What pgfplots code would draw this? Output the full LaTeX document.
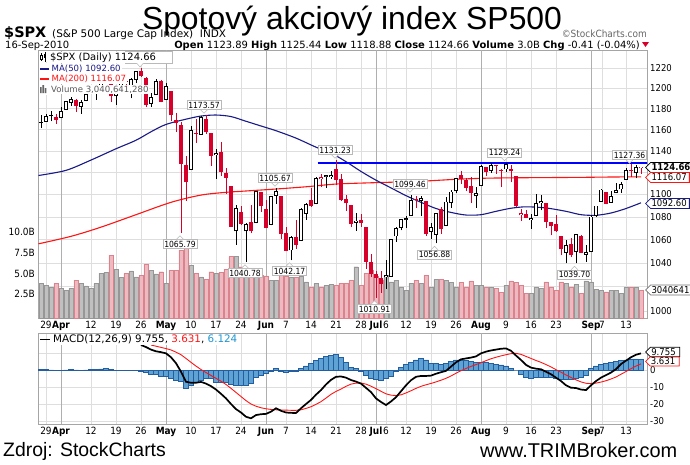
\documentclass[border=0pt]{standalone}
\usepackage{pgfplots}
\pgfplotsset{compat=1.18}
\usepackage{pgfplotstable}
\usepackage{fontspec}
\setmainfont{DejaVu Sans Condensed}
\newfontfamily\arial{Liberation Sans}
\newfontfamily\dvs{DejaVu Sans}
\usetikzlibrary{shapes.symbols}
\newcommand\fsz[1]{\fontsize{#1}{#1}\selectfont}
\definecolor{cred}{RGB}{214,0,42}
\definecolor{ma50c}{RGB}{25,25,135}
\definecolor{ma200c}{RGB}{255,20,20}
\definecolor{gridc}{RGB}{222,222,222}
\definecolor{monthc}{RGB}{175,175,175}
\definecolor{framec}{RGB}{165,165,165}
\definecolor{volg}{RGB}{192,192,192}
\definecolor{volgd}{RGB}{150,150,150}
\definecolor{volp}{RGB}{236,186,192}
\definecolor{volpd}{RGB}{220,130,140}
\definecolor{histf}{RGB}{95,162,212}
\definecolor{histd}{RGB}{35,95,160}
\definecolor{macdblue}{RGB}{30,150,210}
\definecolor{annoc}{RGB}{185,185,185}
\tikzset{anno/.style={draw=annoc, fill=white, font=\fsz{8.5}, inner sep=1.3bp, line width=0.6bp}}
% black hollow candles (close >= open, close >= previous close)
\pgfplotstableread{
i O H L C V
0 1167.7 1174.9 1167.7 1173.2 3.6
3 1171.2 1181.4 1170.7 1178.1 3.2
4 1178.7 1187.7 1178.7 1187.4 3.0
5 1186.0 1191.8 1182.8 1189.4 3.2
7 1181.8 1188.6 1175.1 1186.4 3.8
8 1187.5 1194.7 1187.2 1194.4 3.5
9 1194.9 1199.2 1194.7 1196.5 3.2
10 1195.9 1199.0 1188.8 1197.3 3.8
11 1198.7 1210.7 1198.7 1210.7 5.0
12 1210.8 1213.9 1208.5 1211.7 5.15
14 1192.1 1197.9 1183.7 1197.5 5.5
15 1199.0 1208.6 1199.0 1207.2 4.5
17 1202.5 1210.3 1190.2 1208.7 5.3
18 1207.9 1217.3 1205.1 1217.3 4.6
21 1184.6 1195.0 1181.8 1191.4 5.4
22 1193.3 1209.4 1193.3 1206.8 4.95
24 1188.6 1205.1 1188.6 1202.3 3.8
29 1122.3 1163.9 1122.3 1159.7 6.0
31 1155.4 1172.9 1155.4 1171.7 4.6
34 1136.5 1141.9 1114.0 1136.9 5.0
38 1067.3 1090.2 1055.9 1087.7 7.05
40 1067.4 1074.8 1040.8 1074.0 5.0
42 1074.3 1103.5 1074.3 1103.1 4.5
45 1073.0 1098.6 1072.5 1098.4 4.2
46 1098.8 1105.7 1091.8 1102.8 4.2
49 1050.8 1063.2 1042.2 1062.0 4.5
51 1058.8 1087.9 1058.8 1086.8 4.7
52 1082.7 1092.0 1077.5 1091.6 4.0
54 1091.2 1115.6 1091.2 1115.2 3.8
56 1116.0 1117.7 1105.9 1116.0 3.6
57 1116.2 1121.0 1113.9 1117.5 3.7
62 1075.1 1083.1 1067.9 1076.8 5.8
68 1028.1 1042.5 1018.4 1028.1 4.8
69 1028.5 1060.9 1028.5 1060.3 4.0
70 1062.9 1071.3 1058.2 1070.3 4.2
71 1070.5 1078.2 1068.1 1078.0 3.4
72 1077.2 1080.8 1070.5 1078.8 3.0
73 1080.7 1099.5 1080.7 1095.3 3.8
75 1094.5 1098.7 1080.5 1096.5 3.8
77 1066.9 1074.7 1061.1 1071.3 3.4
78 1064.5 1083.9 1056.9 1083.5 4.3
80 1072.1 1097.5 1072.1 1093.7 4.2
81 1092.2 1103.7 1087.9 1102.7 3.9
82 1102.9 1115.0 1101.3 1115.0 3.4
86 1098.4 1106.4 1088.0 1101.6 3.6
87 1107.5 1127.3 1107.5 1125.9 3.6
89 1121.1 1128.8 1119.5 1127.2 3.3
92 1122.8 1129.2 1120.9 1127.8 3.6
97 1077.5 1082.6 1069.5 1079.4 2.6
98 1081.2 1100.1 1081.2 1092.5 3.4
99 1092.1 1099.8 1085.8 1094.2 3.2
104 1049.0 1059.4 1039.8 1055.3 3.8
106 1049.3 1065.2 1039.7 1064.6 3.7
108 1046.9 1055.1 1040.9 1049.3 4.1
109 1049.7 1081.3 1049.7 1080.3 4.0
110 1080.7 1090.1 1080.4 1090.1 3.1
111 1093.6 1105.1 1093.6 1104.5 3.0
113 1092.4 1103.3 1092.4 1098.9 3.0
114 1101.2 1110.3 1101.2 1104.2 3.0
115 1104.6 1110.9 1101.6 1109.6 2.6
116 1113.4 1123.9 1113.4 1121.9 3.3
118 1119.4 1126.5 1114.6 1125.1 3.3
}\gzero
% red hollow candles
\pgfplotstableread{
i O H L C V
55 1114.0 1118.7 1107.1 1114.6 3.4
95 1081.5 1086.7 1076.7 1083.6 3.6
119 1123.9 1125.4 1118.9 1124.7 3.0
}\gone
% red filled candles
\pgfplotstableread{
i O H L C V
2 1171.8 1174.6 1165.8 1169.4 3.8
6 1188.2 1189.6 1177.3 1182.5 4.2
13 1210.2 1210.2 1186.8 1192.1 7.2
16 1207.2 1211.0 1198.9 1205.9 5.0
19 1217.1 1219.8 1211.1 1212.1 4.8
20 1209.9 1211.4 1181.6 1183.7 6.1
23 1206.8 1208.0 1186.3 1186.7 5.2
25 1197.5 1197.5 1168.1 1173.6 5.4
26 1169.2 1176.0 1158.2 1165.9 5.4
27 1164.4 1167.6 1065.8 1128.2 7.8
28 1127.0 1135.1 1094.2 1110.9 8.2
30 1156.4 1170.5 1147.7 1155.8 5.0
32 1170.0 1173.6 1156.1 1157.4 4.3
33 1157.2 1157.2 1126.1 1135.7 5.2
35 1138.8 1148.7 1117.2 1120.8 5.15
36 1119.6 1124.3 1100.7 1115.1 5.5
37 1107.3 1107.3 1071.6 1071.6 7.0
39 1084.8 1090.0 1072.7 1073.7 5.8
41 1075.5 1090.8 1065.6 1068.0 4.8
43 1102.6 1102.6 1084.8 1089.4 4.8
44 1087.3 1094.8 1069.9 1070.7 4.7
47 1098.4 1098.4 1060.5 1064.9 5.4
48 1065.8 1071.4 1049.9 1050.5 4.7
50 1062.8 1077.7 1052.3 1055.7 4.5
53 1095.0 1105.9 1089.0 1089.6 3.4
58 1122.8 1131.2 1108.2 1113.2 3.6
59 1113.9 1118.5 1094.2 1095.3 3.8
60 1095.6 1099.6 1085.3 1092.0 3.8
61 1090.9 1090.9 1071.6 1073.7 4.2
63 1077.5 1082.6 1071.5 1074.6 3.6
64 1071.1 1071.1 1035.2 1041.2 5.0
65 1040.6 1048.1 1028.3 1030.7 5.4
66 1031.1 1033.6 1010.9 1027.4 4.7
67 1027.7 1032.9 1015.0 1022.6 4.2
74 1095.6 1099.1 1087.7 1095.2 4.2
76 1093.9 1093.9 1063.3 1064.9 4.8
79 1086.7 1089.0 1065.3 1069.6 4.3
83 1117.4 1121.0 1109.8 1113.8 3.9
84 1112.8 1114.7 1103.1 1106.1 3.3
85 1108.1 1115.9 1092.8 1101.5 4.1
88 1125.3 1125.4 1116.8 1120.5 3.3
90 1125.8 1126.6 1118.9 1125.8 3.2
91 1122.1 1123.1 1107.0 1121.6 2.7
93 1122.9 1127.2 1111.0 1121.1 4.1
94 1116.9 1116.9 1088.5 1089.5 3.9
96 1082.2 1086.3 1079.0 1079.3 2.6
100 1092.4 1092.4 1070.7 1075.6 4.0
101 1075.6 1075.6 1063.9 1071.7 3.4
102 1073.4 1081.6 1067.1 1067.4 3.0
103 1063.2 1063.2 1046.7 1051.9 4.0
105 1056.3 1061.5 1045.4 1047.2 3.4
107 1063.0 1064.4 1048.8 1048.9 2.6
112 1102.6 1102.6 1091.2 1091.8 2.8
117 1121.2 1127.4 1115.6 1121.1 3.3
}\gtwo
% black filled candles
\pgfplotstableread{
i O H L C V
-1 1167.6 1173.9 1161.5 1166.6 3.8
1 1173.8 1177.8 1168.0 1173.3 3.3
}\gthree
\pgfplotstableread{
i v
-1 0.3
0 0.3
1 0.1
2 -0.3
3 -0.3
4 0.1
5 0.3
6 0.1
7 -0.2
8 0.1
9 0.2
10 0.3
11 0.6
12 0.8
13 0.4
14 -0.3
15 -0.3
16 -0.3
17 -0.3
18 -0.3
19 -0.6
20 -1.5
21 -2.5
22 -2.5
23 -3.5
24 -3.5
25 -5
26 -6
27 -6.5
28 -10.8
29 -8.8
30 -7
31 -5.9
32 -5
33 -5
34 -7
35 -7
36 -7
37 -8.5
38 -9
39 -9
40 -9
41 -7.5
42 -4
43 -3
44 -2
45 -1
46 0.8
47 -0.5
48 -1.5
49 -1
50 -1
51 0.8
52 2.5
53 4
54 5.5
55 7
56 8
57 8.5
58 9
59 7.5
60 4.5
61 1.5
62 0.8
63 -1
64 -3
65 -5
66 -5.5
67 -6
68 -5
69 -3.5
70 -1
71 1.5
72 3.5
73 4.5
74 6
75 7
76 6
77 4
78 4
79 3.5
80 4
81 5
82 5.9
83 6
84 5.5
85 5
86 4.5
87 4.5
88 4.5
89 4
90 3.5
91 3
92 2.5
93 1
94 0
95 -2.5
96 -4.5
97 -5
98 -4.5
99 -4
100 -4
101 -4.5
102 -5
103 -5.5
104 -5.5
105 -5.5
106 -5
107 -4
108 -3
109 1
110 2.5
111 3.5
112 4
113 4.5
114 5
115 5.5
116 6
117 6.5
118 6.5
119 6.1
}\hist
\pgfplotstableread{
i v
19 14.7
20 13.5
21 12
22 11
23 10.5
24 9.8
25 7.5
26 4
27 -1
28 -6.9
29 -7.5
30 -7.5
31 -7
32 -8
33 -9.5
34 -11.5
35 -14
36 -16.7
37 -20
38 -23
39 -25
40 -27.5
41 -28.4
42 -26.5
43 -26
44 -25.8
45 -24.5
46 -22.5
47 -24
48 -25
49 -25.2
50 -25.3
51 -22.5
52 -20
53 -17.6
54 -14.5
55 -11.8
56 -8.5
57 -5.8
58 -4
59 -3.8
60 -4.5
61 -5.9
62 -6.8
63 -8
64 -10.5
65 -13
66 -16.7
67 -18.8
68 -20.6
69 -18.5
70 -16
71 -12.5
72 -9
73 -6
74 -4
75 -3.5
76 -3.5
77 -3.3
78 -2.2
79 -1.3
80 -0.5
81 2
82 4.5
83 6.3
84 6.8
85 7.3
86 8
87 9.8
88 10.8
89 11.5
90 12
91 12.5
92 12.7
93 11.3
94 8.5
95 5.9
96 3
97 1.4
98 0.8
99 0.4
100 -1
101 -2.5
102 -4.5
103 -6.5
104 -9
105 -10.4
106 -10.6
107 -11.5
108 -11.8
109 -9
110 -6.5
111 -4.5
112 -3
113 -1.5
114 0.5
115 3.5
116 5.5
117 7.5
118 9
119 9.755
}\macd
\pgfplotstableread{
i v
21 14.7
22 14
23 13.3
24 12.6
25 11.8
26 10.5
27 9
28 6.8
29 4.5
30 2.3
31 0.3
32 -1.5
33 -3.2
34 -4.9
35 -6.6
36 -8.5
37 -10.8
38 -13.2
39 -15.6
40 -18
41 -20
42 -21.3
43 -22.2
44 -22.8
45 -23.2
46 -23.4
47 -23.5
48 -23.6
49 -23.7
50 -23.7
51 -23.4
52 -22.6
53 -21.6
54 -20.2
55 -18.6
56 -16.5
57 -14.3
58 -12.6
59 -11.2
60 -9.6
61 -8.3
62 -7.7
63 -7.7
64 -8.3
65 -9.5
66 -11
67 -12.5
68 -14
69 -14.8
70 -15
71 -14.6
72 -13.5
73 -12.2
74 -10.8
75 -9.6
76 -8.7
77 -7.9
78 -7
79 -6
80 -4.9
81 -3.5
82 -1.9
83 -0.4
84 0.9
85 2.1
86 3.2
87 4.3
88 5.5
89 6.6
90 7.5
91 8.3
92 9
93 9.6
94 9.8
95 9.2
96 8
97 6.8
98 5.6
99 4.5
100 3.2
101 1.8
102 0.2
103 -1.3
104 -2.9
105 -4.4
106 -5.8
107 -7
108 -7.8
109 -8
110 -7.7
111 -7.1
112 -6.3
113 -5.3
114 -4.1
115 -2.5
116 -0.9
117 0.8
118 2.3
119 3.631
}\sig
\pgfplotsset{
  panelx/.style={
    scale only axis, width=609bp, xmin=-1.6, xmax=120.2,
    xtick={0,9,14,19,29,34,39,48,53,58,63,68,72,77,82,92,97,102,111.2,116},
    xticklabels={29,12,19,26,10,17,24,7,14,21,28,6,12,19,26,9,16,23,7,13},
    extra x ticks={3,24,44,66,87,109},
    extra x tick labels={\textbf{Apr},\textbf{May},\textbf{Jun},\textbf{Jul},\textbf{Aug},\textbf{Sep}},
    extra x tick style={grid=major, major grid style={draw=monthc, line width=0.8bp}},
    grid=major, major grid style={draw=gridc, line width=0.6bp},
    axis line style={draw=framec, line width=0.7bp}, tick style={draw=none},
    xticklabel style={font=\fsz{10}, inner sep=0pt, yshift=-3bp, anchor=north},
    yticklabel pos=right,
    yticklabel style={font=\fsz{9.5}, inner sep=0pt, xshift=3bp, anchor=west},
  },
}
\newcommand\pdown[1]{\draw[annoc, fill=white, line width=0.5bp] ([xshift=-3.5bp]#1.south) -- ([yshift=-3.5bp]#1.south) -- ([xshift=3.5bp]#1.south);}
\newcommand\pup[1]{\draw[annoc, fill=white, line width=0.5bp] ([xshift=-3.5bp]#1.north) -- ([yshift=3.5bp]#1.north) -- ([xshift=3.5bp]#1.north);}
\begin{document}
\begin{tikzpicture}
\path[use as bounding box] (0bp,0bp) rectangle (690bp,-465bp);
% grid and frame of price panel
\begin{axis}[panelx, at={(38bp,-50bp)}, anchor=north west, height=268bp,
  ymode=log, ymin=994.3, ymax=1238.3,
  ytick={1000,1020,1040,1060,1080,1100,1120,1140,1160,1180,1200,1220},
  yticklabels={1000,,1040,1060,1080,1100,,1140,1160,1180,1200,1220}]
\addplot[draw=none] coordinates {(0,1100)};
\end{axis}
% volume
\begin{axis}[at={(38bp,-50bp)}, anchor=north west, scale only axis, width=609bp, height=268bp,
  xmin=-1.6, xmax=120.2, ymin=0, ymax=32.06,
  axis line style={draw=none}, tick style={draw=none}, xtick=\empty,
  ytick={2.835,5.335,7.835,10.335}, yticklabels={2.5B,5.0B,7.5B,10.0B},
  yticklabel style={font=\fsz{10}, inner sep=0pt, xshift=-3bp, anchor=east}]
\addplot[ybar, bar width=4.4bp, bar shift=0pt, fill=volg, draw=volgd, line width=0.4bp]
  table[x=i, y expr=\thisrow{V}+0.335] {\gzero};
\addplot[ybar, bar width=4.4bp, bar shift=0pt, fill=volg, draw=volgd, line width=0.4bp]
  table[x=i, y expr=\thisrow{V}+0.335] {\gthree};
\addplot[ybar, bar width=4.4bp, bar shift=0pt, fill=volp, draw=volpd, line width=0.4bp]
  table[x=i, y expr=\thisrow{V}+0.335] {\gone};
\addplot[ybar, bar width=4.4bp, bar shift=0pt, fill=volp, draw=volpd, line width=0.4bp]
  table[x=i, y expr=\thisrow{V}+0.335] {\gtwo};
\end{axis}
% price plots
\begin{axis}[at={(38bp,-50bp)}, anchor=north west, scale only axis, width=609bp, height=268bp,
  xmin=-1.6, xmax=120.2, ymode=log, ymin=994.3, ymax=1238.3, hide axis]
\addplot[ma200c, line width=1.1bp, smooth] coordinates {(-1.5,1056.5) (5,1063) (11,1071) (18,1082) (25,1093) (31,1099.5) (36,1102) (40,1103.2) (46,1105) (52,1107) (58,1109.5) (64,1110.5) (70,1111.3) (76,1112.3) (82,1113.8) (88,1114.8) (95,1115.2) (101,1115.4) (107,1115.6) (113,1115.9) (119,1116.07)};
\addplot[ma50c, line width=1.1bp, smooth] coordinates {(-1.5,1117.3) (4,1122) (9,1131.5) (14,1142) (18,1150) (21,1158) (24,1165) (28,1170) (31,1173) (34,1174) (37,1172.5) (40,1168) (43,1163.5) (46,1159) (50,1152) (54,1143.5) (57,1138) (60,1130) (63,1121) (66,1113) (69,1106) (72,1099) (75,1093) (78,1087.5) (81,1084) (84,1081.7) (87,1082) (90,1085) (93,1087.7) (96,1089) (100,1088) (104,1085) (107,1082) (110,1081.5) (113,1083.5) (116,1087.5) (119,1092.6)};
\addplot[blue, line width=2.4bp] coordinates {(54.3,1128.6) (121,1128.6)};
% wicks
\addplot[draw=none, mark=none, error bars/.cd, y dir=plus, y explicit, error mark=none,
  error bar style={draw=black, line width=0.9bp}]
  table[x=i, y=L, y error expr=\thisrow{H}-\thisrow{L}] {\gzero};
\addplot[draw=none, mark=none, error bars/.cd, y dir=plus, y explicit, error mark=none,
  error bar style={draw=black, line width=0.9bp}]
  table[x=i, y=L, y error expr=\thisrow{H}-\thisrow{L}] {\gthree};
\addplot[draw=none, mark=none, error bars/.cd, y dir=plus, y explicit, error mark=none,
  error bar style={draw=cred, line width=0.9bp}]
  table[x=i, y=L, y error expr=\thisrow{H}-\thisrow{L}] {\gone};
\addplot[draw=none, mark=none, error bars/.cd, y dir=plus, y explicit, error mark=none,
  error bar style={draw=cred, line width=0.9bp}]
  table[x=i, y=L, y error expr=\thisrow{H}-\thisrow{L}] {\gtwo};
% bodies
\addplot[draw=none, mark=none, error bars/.cd, y dir=plus, y explicit, error mark=none,
  error bar style={draw=black, line width=3.9bp}]
  table[x=i, y=O, y error expr={max(\thisrow{C}-\thisrow{O},1.6)}] {\gzero};
\addplot[draw=none, mark=none, error bars/.cd, y dir=plus, y explicit, error mark=none,
  error bar style={draw=cred, line width=3.9bp}]
  table[x=i, y=O, y error expr={max(\thisrow{C}-\thisrow{O},1.6)}] {\gone};
\addplot[draw=none, mark=none, error bars/.cd, y dir=plus, y explicit, error mark=none,
  error bar style={draw=black, line width=3.9bp}]
  table[x=i, y=C, y error expr={max(\thisrow{O}-\thisrow{C},0.8)}] {\gthree};
\addplot[draw=none, mark=none, error bars/.cd, y dir=plus, y explicit, error mark=none,
  error bar style={draw=cred, line width=3.9bp}]
  table[x=i, y=C, y error expr={max(\thisrow{O}-\thisrow{C},0.8)}] {\gtwo};
\addplot[draw=none, mark=none, error bars/.cd, y dir=plus, y explicit, error mark=none,
  error bar style={draw=white, line width=2.1bp, shorten <=0.9bp, shorten >=0.9bp}]
  table[x=i, y=O, y error expr={max(\thisrow{C}-\thisrow{O},1.6)}] {\gzero};
\addplot[draw=none, mark=none, error bars/.cd, y dir=plus, y explicit, error mark=none,
  error bar style={draw=white, line width=2.1bp, shorten <=0.9bp, shorten >=0.9bp}]
  table[x=i, y=O, y error expr={max(\thisrow{C}-\thisrow{O},1.6)}] {\gone};
\end{axis}
% legend of price panel (drawn over the candles, as in the reference)
\draw[annoc, fill=white, line width=0.6bp] (125bp,-51.5bp) rectangle (172bp,-63bp);
\draw[annoc, fill=white, line width=0.5bp] (136.5bp,-63bp) -- (140bp,-67bp) -- (143.5bp,-63bp);
\fill[white] (39bp,-51bp) rectangle (49bp,-62bp);
\node[fill=white, anchor=west, inner sep=0.3bp, font=\dvs\fsz{10}] at (49.5bp,-57.5bp) {\$SPX (Daily) 1124.66};
\draw[black, line width=0.6bp] (41.5bp,-53bp) -- (41.5bp,-61bp) (45bp,-52bp) -- (45bp,-62bp);
\draw[black, fill=white, line width=0.5bp] (40.5bp,-55bp) rectangle (42.5bp,-59bp);
\fill[black] (44bp,-54bp) rectangle (46bp,-58bp);
\fill[white] (39bp,-63bp) rectangle (51bp,-95bp);
\node[fill=white, anchor=west, inner sep=1bp, font=\dvs\fsz{8.6}, text=ma50c] at (50.5bp,-69bp) {MA(50) 1092.60};
\draw[ma50c, line width=1.8bp] (40bp,-69bp) -- (49bp,-69bp);
\node[fill=white, anchor=west, inner sep=1bp, font=\dvs\fsz{8.6}, text=ma200c] at (50.5bp,-79bp) {MA(200) 1116.07};
\draw[ma200c, line width=1.8bp] (40bp,-79bp) -- (49bp,-79bp);
\node[fill=white, anchor=west, inner sep=1bp, font=\dvs\fsz{8.6}, text=black!65] at (50bp,-89.5bp) {Volume 3,040,641,280};
\fill[black!60] (40bp,-93bp) rectangle (41.6bp,-87bp) (42.4bp,-93bp) rectangle (44bp,-85bp) (44.8bp,-93bp) rectangle (46.4bp,-88bp);
% annotations
\node[anno] (a1) at (204bp,-105bp) {1173.57}; \pdown{a1}
\node[anno] (a2) at (180bp,-244bp) {1065.79}; \pup{a2}
\node[anno] (a3) at (275bp,-178bp) {1105.67}; \pdown{a3}
\node[anno] (a4) at (245bp,-273bp) {1040.78}; \pup{a4}
\node[anno] (a5) at (289.5bp,-271bp) {1042.17}; \pup{a5}
\node[anno] (a6) at (335bp,-150bp) {1131.23}; \pdown{a6}
\node[anno] (a7) at (410bp,-184bp) {1099.46}; \pdown{a7}
\node[anno] (a8) at (374.5bp,-309bp) {1010.91}; \pup{a8}
\node[anno] (a9) at (434.5bp,-254.5bp) {1056.88}; \pup{a9}
\node[anno] (a10) at (504.5bp,-152.5bp) {1129.24}; \pdown{a10}
\node[anno] (a11) at (574.5bp,-274.5bp) {1039.70}; \pup{a11}
\node[anno] (a12) at (629.5bp,-155bp) {1127.36}; \pdown{a12}
% right value boxes
\node[signal, signal to=west, draw=black, fill=white, line width=0.8bp, font=\fsz{9.5}\bfseries, inner sep=1bp, minimum height=10bp, anchor=west] at (645bp,-167.5bp) {1124.66\,};
\node[signal, signal to=west, draw=ma200c, fill=white, line width=0.8bp, font=\fsz{9.5}, inner sep=1bp, minimum height=10bp, anchor=west] at (645bp,-177.5bp) {1116.07\,};
\node[signal, signal to=west, draw=ma50c, fill=white, line width=0.8bp, font=\fsz{9.5}, inner sep=1bp, minimum height=10bp, anchor=west] at (645bp,-203.5bp) {1092.60\,};
\node[signal, signal to=west, draw=black!55, fill=white, line width=0.8bp, font=\fsz{9.5}, inner sep=1bp, minimum height=10bp, anchor=west] at (645bp,-290bp) {3040641\,};
% MACD panel
\begin{axis}[panelx, at={(38bp,-333bp)}, anchor=north west, height=91bp,
  ymin=-31.76, ymax=21.76, ytick={-30,-20,-10,0,10}, yticklabels={-30,-20,-10,0,}]
\addplot[ybar, bar width=5bp, bar shift=0pt, fill=histf, draw=histd, line width=0.5bp] table[x=i, y=v] {\hist};
\addplot[ma200c, line width=0.9bp] table[x=i, y=v] {\sig};
\addplot[black, line width=1.7bp] table[x=i, y=v] {\macd};
\end{axis}
\node[fill=white, anchor=west, inner sep=1bp, font=\dvs\fsz{10.4}] at (52bp,-339.5bp) {MACD(12,26,9) 9.755, \textcolor{ma200c}{3.631}, \textcolor{macdblue}{6.124}};
\draw[black, line width=1.8bp] (40bp,-339.5bp) -- (50bp,-339.5bp);
\node[signal, signal to=west, draw=black, fill=white, line width=0.8bp, font=\fsz{9.5}, inner sep=1bp, minimum height=9.5bp, anchor=west] at (645bp,-352bp) {9.755\,\,};
\node[signal, signal to=west, draw=ma200c, fill=white, line width=0.8bp, font=\fsz{9.5}, inner sep=0.8bp, minimum height=9bp, anchor=west] at (645bp,-361.5bp) {3.631\,\,};
% header
\node[anchor=base west, font=\dvs\fsz{14.5}\bfseries, inner sep=0pt] at (4bp,-37bp) {\$SPX};
\node[anchor=base west, font=\dvs\fsz{10.5}, inner sep=0pt] at (52bp,-37bp) {(S\&P 500 Large Cap Index)\ \ INDX};
\node[anchor=base, font=\arial\fsz{32}] at (352bp,-29bp) {Spotový akciový index SP500};
\node[anchor=base east, font=\fsz{10}, inner sep=0pt, text=black!60] at (647bp,-37bp) {\copyright StockCharts.com};
\node[anchor=base west, font=\dvs\fsz{10}, inner sep=0pt] at (5bp,-48bp) {16-Sep-2010};
\node[anchor=base east, font=\dvs\fsz{10}, inner sep=0pt] at (640bp,-48bp) {\textbf{Open} 1123.89 \textbf{High} 1125.44 \textbf{Low} 1118.88 \textbf{Close} 1124.66 \textbf{Volume} 3.0B \textbf{Chg} -0.41 (-0.04\%)};
\fill[cred] (642bp,-42bp) -- (649bp,-42bp) -- (645.5bp,-47bp) -- cycle;
% footer
\node[anchor=base west, font=\arial\fsz{19.5}, inner sep=0pt] at (3bp,-456.5bp) {Zdroj: StockCharts};
\node[anchor=base west, font=\arial\fsz{20}, inner sep=0pt] at (480bp,-457.5bp) {www.TRIMBroker.com};
\end{tikzpicture}
\end{document}
